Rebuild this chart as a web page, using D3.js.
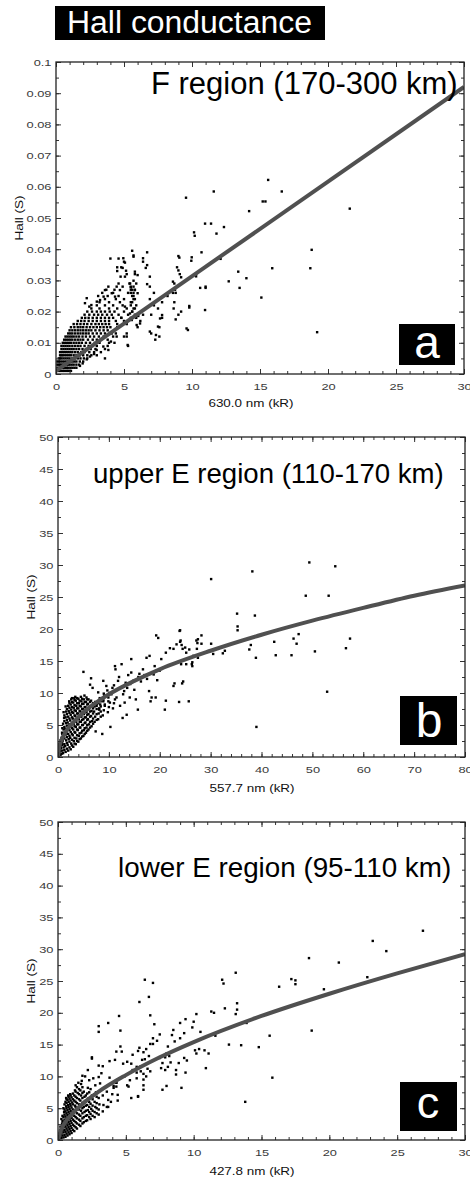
<!DOCTYPE html>
<html>
<head>
<meta charset="utf-8">
<script src="https://cdn.jsdelivr.net/npm/d3@7"></script>
<style>
  body { margin: 0; background: #fff; }
  svg { display: block; font-family: "Liberation Sans", Arial, sans-serif; }
</style>
</head>
<body>
<svg id="chart" width="470" height="1179"></svg>
<script>
// ---- text ----
const titleText = "Hall conductance";
const regionNames = ["F region (170-300 km)", "upper E region (110-170 km)", "lower E region (95-110 km)"];
const xAxisNames = ["630.0 nm (kR)", "557.7 nm (kR)", "427.8 nm (kR)"];
const yAxisName = "Hall (S)";
const panelLetters = ["a", "b", "c"];

// ---- ticks ----
const fXTicks = [0, 5, 10, 15, 20, 25, 30];
const fYTicks = [0, 0.01, 0.02, 0.03, 0.04, 0.05, 0.06, 0.07, 0.08, 0.09, 0.1];
const fYLabels = ["0", "0.01", "0.02", "0.03", "0.04", "0.05", "0.06", "0.07", "0.08", "0.09", "0.1"];
const upperXTicks = [0, 10, 20, 30, 40, 50, 60, 70, 80];
const lowerXTicks = [0, 5, 10, 15, 20, 25, 30];
const eYTicks = [0, 5, 10, 15, 20, 25, 30, 35, 40, 45, 50];

// ---- fitted curves ----
const fitF = [[0, 0.001], [30, 0.092]];
const fitUpperE = [[0, 0], [0.25, 1.6], [0.5, 2.3], [1, 3.2], [2, 4.5], [3, 5.4], [5, 7.0], [7.5, 8.5], [10, 9.8],
  [15, 11.9], [20, 13.7], [30, 16.6], [40, 19.1], [50, 21.3], [60, 23.3], [70, 25.2], [80, 26.8]];
const fitLowerE = [[0, 0], [0.25, 1.75], [0.5, 2.7], [1, 4.0], [2, 6.0], [3, 7.6], [5, 10.2], [7.5, 13.0], [10, 15.4],
  [15, 19.5], [20, 23.0], [25, 26.2], [30, 29.2]];

// ---- scatter points (kR, S) ----
const scatterF = [
  [15.6,0.0622],[16.6,0.0585],[11.6,0.0585],[15.2,0.0553],[15.4,0.0553],[14.2,0.0522],[21.6,0.0530],[10.96,0.0482],
  [11.4,0.0482],[12.35,0.0471],[11.8,0.0450],[10.7,0.0390],[11.45,0.0358],[12.1,0.0369],[18.8,0.0398],[18.7,0.0339],
  [15.9,0.0339],[13.4,0.0328],[14.0,0.0307],[12.7,0.0297],[13.5,0.0276],[10.6,0.0276],[11.0,0.0276],[10.96,0.0205],
  [15.1,0.0245],[19.2,0.0134],[9.56,0.0565],[10.15,0.0454],[10.2,0.0443],[9.95,0.0363],[10.3,0.0313],[9.7,0.0141],
  [9.8,0.0213],[9.07,0.0373],[9.0,0.0332],[9.2,0.031],[9.2,0.020],[9.0,0.019],[8.7,0.029],[8.8,0.026],[8.7,0.023],
  [8.8,0.0175],[8.6,0.026],[7.8,0.018],[7.6,0.015],[7.6,0.012],[7.3,0.011],[7.0,0.013],[7.2,0.026],[6.9,0.028],
  [6.7,0.039],[6.6,0.034],[6.4,0.036],[5.7,0.038],[5.8,0.032],[5.0,0.036],[4.6,0.037],[4.0,0.037],[4.5,0.033],
  [4.9,0.034],[5.2,0.032],[5.2,0.012],[5.3,0.009],[3.6,0.005],[9.0,0.0378],[9.98,0.0374],[8.9,0.0342],[9.1,0.032],
  [10.3,0.032],[8.6,0.0296],[8.75,0.027],[9.8,0.0218],[8.65,0.021],[11.0,0.028],[9.6,0.0146],[7.65,0.0178],
  [7.8,0.0189],[6.9,0.0136],[7.35,0.0125],[7.5,0.0152],[6.7,0.0288],[6.9,0.0312],[6.4,0.0371],[6.7,0.0349],
  [5.6,0.0395],[5.7,0.0376],[4.95,0.0371],[5.07,0.0357],[4.8,0.0342],[4.5,0.0342],[5.15,0.0331],[4.75,0.0312],
  [5.07,0.0312],[5.8,0.0328],[6.0,0.0317],[5.7,0.0299],[5.45,0.029],[5.9,0.029],[5.5,0.0278],[5.8,0.0269],
  [6.0,0.0259],[4.46,0.028],[4.7,0.0269],[4.34,0.0248],[4.1,0.0259],[3.85,0.028],[3.6,0.0269],[3.5,0.0248],
  [3.24,0.0237],[3.0,0.0232],[2.6,0.0221],[2.45,0.0216],[2.13,0.0227],[2.26,0.0243],[5.07,0.0216],[5.44,0.0194],
  [5.57,0.0173],[6.05,0.0186],[6.18,0.0162],[5.93,0.0157],[5.2,0.013],[5.27,0.0093],[4.46,0.012],[4.04,0.0104],
  [3.85,0.0077],[3.48,0.0088],[2.99,0.0077],[2.8,0.0064],[2.5,0.0056],[2.26,0.0047],[1.96,0.0034],[1.76,0.0026],
  [4.1,0.013],[4.5,0.015],[4.8,0.018],[5.2,0.016],[5.6,0.020],[5.9,0.022],[6.2,0.017],[6.4,0.019],[6.6,0.021],
  [6.9,0.024],[7.2,0.022],[7.5,0.021],[7.8,0.023],[8.2,0.025],[7.0,0.019],[5.0,0.012],[6.0,0.015],[4.3,0.010],
  [3.8,0.011],[5.5,0.026],[5.6,0.027],[5.7,0.025],[5.8,0.024],[5.6,0.023],[5.7,0.021],[5.8,0.019],[5.9,0.018],[5.5,0.022],
  [0.1,0.001],[0.3,0.001],[0.5,0.001],[0.7,0.001],[0.9,0.001],[1.1,0.001],
  [0.1,0.002],[0.3,0.002],[0.5,0.002],[0.7,0.002],[0.9,0.002],[1.2,0.002],[1.5,0.002],
  [0.1,0.003],[0.3,0.003],[0.5,0.003],[0.8,0.003],[1.0,0.003],[1.3,0.003],[1.7,0.003],
  [0.1,0.004],[0.3,0.004],[0.6,0.004],[0.9,0.004],[1.2,0.004],[1.5,0.004],[2.0,0.004],
  [0.2,0.005],[0.4,0.005],[0.7,0.005],[1.0,0.005],[1.4,0.005],[1.8,0.005],[2.3,0.005],
  [0.3,0.006],[0.5,0.006],[0.8,0.006],[1.1,0.006],[1.5,0.006],[2.0,0.006],[2.6,0.006],[3.0,0.006],
  [0.3,0.007],[0.6,0.007],[0.9,0.007],[1.2,0.007],[1.6,0.007],[2.1,0.007],[2.8,0.007],[3.3,0.007],
  [0.4,0.008],[0.7,0.008],[1.0,0.008],[1.3,0.008],[1.7,0.008],[2.2,0.008],[2.9,0.008],[3.6,0.008],
  [0.4,0.009],[0.7,0.009],[1.0,0.009],[1.4,0.009],[1.8,0.009],[2.4,0.009],[3.0,0.009],[3.8,0.009],
  [0.5,0.010],[0.8,0.010],[1.1,0.010],[1.5,0.010],[1.9,0.010],[2.5,0.010],[3.2,0.010],[3.9,0.010],
  [0.6,0.011],[0.9,0.011],[1.2,0.011],[1.6,0.011],[2.0,0.011],[2.7,0.011],[3.3,0.011],
  [0.7,0.012],[1.0,0.012],[1.3,0.012],[1.7,0.012],[2.2,0.012],[2.8,0.012],[3.5,0.012],[4.2,0.012],
  [0.9,0.013],[1.2,0.013],[1.6,0.013],[2.0,0.013],[2.4,0.013],[3.0,0.013],[3.6,0.013],[4.4,0.013],
  [1.0,0.014],[1.4,0.014],[1.8,0.014],[2.2,0.014],[2.6,0.014],[3.2,0.014],[3.8,0.014],
  [1.1,0.015],[1.6,0.015],[2.0,0.015],[2.5,0.015],[3.0,0.015],[3.5,0.015],[4.0,0.015],[4.6,0.015],
  [1.3,0.016],[1.8,0.016],[2.3,0.016],[2.9,0.016],[3.4,0.016],[3.9,0.016],[4.5,0.016],
  [1.6,0.017],[2.1,0.017],[2.7,0.017],[3.3,0.017],[3.9,0.017],[4.4,0.017],[5.0,0.017],
  [1.9,0.018],[2.4,0.018],[3.0,0.018],[3.6,0.018],[4.2,0.018],[4.8,0.018],[5.5,0.018],
  [2.1,0.019],[2.8,0.019],[3.4,0.019],[4.1,0.019],[4.6,0.019],[5.3,0.019],
  [2.3,0.020],[3.0,0.020],[3.6,0.020],[4.3,0.020],[5.0,0.020],[5.6,0.020],
  [2.6,0.021],[3.2,0.021],[3.9,0.021],[4.5,0.021],[5.2,0.021],[5.8,0.021],
  [3.0,0.022],[3.6,0.022],[4.2,0.022],[4.9,0.022],
  [3.2,0.023],[3.9,0.023],[4.7,0.023],[5.5,0.023],
  [3.6,0.024],[4.4,0.024],[5.0,0.024],[5.7,0.024],
  [3.1,0.025],[3.8,0.025],[4.6,0.025],[5.6,0.025],
  [3.4,0.026],[4.2,0.026],[5.3,0.026],[5.7,0.026],
  [3.7,0.027],[4.3,0.027],[5.5,0.027],[5.8,0.027],
  [4.9,0.028],[5.5,0.028],[5.7,0.028],[4.6,0.029],[5.4,0.029],
  [0.2,0.001],[0.4,0.001],[0.6,0.001],[0.8,0.001],[1.0,0.001],
  [0.2,0.002],[0.4,0.002],[0.6,0.002],[0.8,0.002],[1.05,0.002],[1.35,0.002],
  [0.2,0.003],[0.4,0.003],[0.65,0.003],[0.9,0.003],[1.15,0.003],[1.5,0.003],
  [0.2,0.004],[0.45,0.004],[0.75,0.004],[1.05,0.004],[1.35,0.004],[1.75,0.004],
  [0.3,0.005],[0.55,0.005],[0.85,0.005],[1.2,0.005],[1.6,0.005],[2.05,0.005],
  [0.4,0.006],[0.65,0.006],[0.95,0.006],[1.3,0.006],[1.75,0.006],[2.3,0.006],
  [0.45,0.007],[0.75,0.007],[1.05,0.007],[1.4,0.007],[1.85,0.007],[2.45,0.007],
  [0.55,0.008],[0.85,0.008],[1.15,0.008],[1.5,0.008],[1.95,0.008],[2.55,0.008],
  [0.55,0.009],[0.85,0.009],[1.2,0.009],[1.6,0.009],[2.1,0.009],[2.7,0.009],
  [0.65,0.010],[0.95,0.010],[1.3,0.010],[1.7,0.010],[2.2,0.010],[2.85,0.010],
  [0.75,0.011],[1.05,0.011],[1.4,0.011],[1.8,0.011],[2.35,0.011],[3.0,0.011],
  [0.85,0.012],[1.15,0.012],[1.5,0.012],[1.95,0.012],[2.5,0.012],[3.15,0.012],
  [1.05,0.013],[1.4,0.013],[1.8,0.013],[2.2,0.013],[2.7,0.013],[3.3,0.013],
  [1.2,0.014],[1.6,0.014],[2.0,0.014],[2.4,0.014],[2.9,0.014],[3.5,0.014],
  [1.35,0.015],[1.8,0.015],[2.25,0.015],[2.75,0.015],[3.25,0.015],[3.75,0.015],
  [1.55,0.016],[2.05,0.016],[2.6,0.016],[3.15,0.016],[3.65,0.016],
  [1.85,0.017],[2.4,0.017],[3.0,0.017],[3.6,0.017],
  [2.15,0.018],[2.7,0.018],[3.3,0.018],[3.9,0.018],
  [2.45,0.019],[3.1,0.019],[3.75,0.019],[2.65,0.020],[3.3,0.020],[3.95,0.020]
];

const scatterUpperE = [
  [52.9,10.2],[39.0,4.7],[57.4,18.5],[56.6,17.0],[50.5,16.5],[45.9,15.9],[46.3,18.5],[46.9,17.7],[47.3,19.2],
  [42.8,15.9],[42.5,18.0],[38.7,22.1],[35.2,22.4],[35.3,20.4],[35.3,19.8],[38.9,15.5],[37.6,16.8],[37.9,17.5],
  [48.7,25.2],[53.2,25.2],[30.1,27.8],[38.2,29.0],[49.4,30.4],[54.5,29.8],
  [24.0,19.8],[24.0,18.0],[24.3,17.5],[24.5,16.9],[25.8,16.8],[27.5,18.4],[27.4,17.8],[30.1,17.7],[30.5,16.1],
  [32.4,16.2],[24.2,14.5],[25.2,14.5],[26.3,14.5],[26.6,15.8],[24.4,11.5],[24.6,11.8],[25.7,8.7],[32.8,16.6],
  [5.0,13.3],[6.5,12.3],[6.3,11.3],[6.8,10.8],[7.4,4.0],[8.7,3.6],[10.3,4.7],[8.1,7.4],[8.9,11.9],[7.9,10.1],
  [9.7,10.4],[9.5,11.1],[10.7,10.8],[11.2,14.2],[11.3,13.7],[12.5,14.5],[11.8,11.9],[11.5,9.3],[12.2,8.0],[12.7,6.1],
  [13.5,6.6],[13.1,8.5],[14.4,15.3],[14.4,13.2],[14.8,11.9],[14.1,9.3],[15.3,9.0],[15.7,7.4],[16.7,13.7],[17.4,15.5],
  [18.0,15.8],[17.9,10.3],[18.4,9.3],[18.2,8.7],[19.2,9.3],[19.3,19.0],[19.7,18.6],[19.0,14.2],[21.0,7.4],[21.2,8.8],
  [20.3,15.3],[21.2,16.3],[22.0,17.0],[22.7,16.9],[23.3,17.6],[23.9,19.7],[24.1,18.2],[22.9,11.5],[22.7,11.1],
  [23.8,8.6],[25.0,17.1],[25.2,16.3],[26.4,14.8],[26.4,14.2],[27.2,18.2],[27.3,16.9],[28.2,19.0],[28.2,17.7],[27.5,15.5],
  [13.0,10.3],[13.6,10.8],[14.2,11.4],[13.3,11.6],[8.3,8.2],[8.9,8.7],[9.2,8.2],[9.9,8.7],[6.9,8.2],[7.6,8.0],
  [15.8,12.5],[16.3,11.8],[17.0,12.8],[16.0,13.0],[12.0,12.5],[13.8,12.8],[15.0,10.5],[17.5,12.2],[18.8,12.9],
  [20.0,13.5],[19.5,12.0],[10.5,9.8],[11.0,11.2],[12.8,9.8],[9.0,9.9],
  [0.3,0.5],[0.4,1.2],[0.3,2.0],[0.5,0.3],[0.15,0.8],[0.2,1.6],
  [0.7,0.5],[0.6,1.4],[0.8,2.2],[0.7,3.0],[0.8,3.8],
  [1.0,0.6],[1.1,1.5],[0.9,2.5],[1.0,3.4],[1.1,4.3],[1.0,5.2],[1.2,6.1],[1.1,7.0],
  [1.5,0.8],[1.4,1.7],[1.6,2.6],[1.5,3.5],[1.4,4.4],[1.6,5.3],[1.5,6.2],[1.6,7.1],[1.5,7.9],
  [2.0,1.0],[1.9,1.9],[2.1,2.8],[2.0,3.6],[2.1,4.5],[1.9,5.4],[2.0,6.3],[2.1,7.2],[2.0,8.0],[2.2,8.7],
  [2.5,1.2],[2.6,2.1],[2.4,3.0],[2.5,3.9],[2.6,4.8],[2.4,5.7],[2.5,6.6],[2.6,7.4],[2.5,8.2],[2.6,9.0],
  [3.0,1.6],[3.1,2.5],[2.9,3.4],[3.0,4.3],[3.1,5.2],[2.9,6.0],[3.0,6.9],[3.1,7.7],[3.0,8.5],[3.2,9.2],
  [3.5,2.0],[3.6,2.9],[3.4,3.8],[3.5,4.7],[3.6,5.5],[3.4,6.4],[3.5,7.2],[3.6,8.0],[3.5,8.8],[3.4,9.4],
  [4.0,2.4],[4.1,3.3],[3.9,4.2],[4.0,5.1],[4.1,5.9],[3.9,6.8],[4.0,7.6],[4.1,8.4],[4.0,9.1],
  [4.5,2.9],[4.6,3.8],[4.4,4.6],[4.5,5.5],[4.6,6.3],[4.4,7.1],[4.5,7.9],[4.6,8.7],[4.5,9.4],
  [5.0,3.3],[5.1,4.2],[4.9,5.0],[5.0,5.9],[5.1,6.7],[4.9,7.5],[5.0,8.3],[5.1,9.0],[5.2,9.6],
  [5.5,3.8],[5.6,4.6],[5.4,5.4],[5.5,6.2],[5.6,7.0],[5.4,7.8],[5.5,8.6],[5.6,9.3],
  [6.0,4.3],[6.1,5.1],[5.9,5.9],[6.0,6.7],[6.1,7.5],[5.9,8.3],[6.0,9.0],
  [6.6,4.8],[6.7,5.6],[6.5,6.4],[6.6,7.2],[6.7,8.0],[6.5,8.8],
  [7.2,5.5],[7.3,6.3],[7.1,7.1],[7.2,7.9],[7.3,8.6],
  [7.9,5.9],[8.0,6.8],[8.1,7.6],[7.9,8.4],[8.2,9.2],
  [8.8,6.5],[9.0,7.3],[9.2,8.0],[8.9,8.9],[9.1,9.6],
  [9.8,7.0],[10.0,7.8],[10.2,8.5],[9.9,9.3],[10.1,10.0],
  [10.8,7.6],[11.0,8.4],[11.2,9.0],
  [0.5,0.9],[0.5,1.7],[0.5,2.6],
  [0.85,1.0],[0.85,1.9],[0.85,2.8],[0.85,3.6],[0.85,4.5],
  [1.25,1.1],[1.25,2.0],[1.25,2.9],[1.25,3.8],[1.25,4.7],[1.25,5.6],[1.25,6.5],
  [1.75,1.3],[1.75,2.2],[1.75,3.1],[1.75,4.0],[1.75,4.9],[1.75,5.8],[1.75,6.7],[1.75,7.5],
  [2.25,1.5],[2.25,2.4],[2.25,3.3],[2.25,4.2],[2.25,5.1],[2.25,6.0],[2.25,6.9],[2.25,7.7],[2.25,8.4],
  [2.75,1.8],[2.75,2.7],[2.75,3.6],[2.75,4.5],[2.75,5.3],[2.75,6.2],[2.75,7.0],[2.75,7.8],[2.75,8.6],[2.75,9.2],
  [3.25,2.1],[3.25,3.0],[3.25,3.9],[3.25,4.8],[3.25,5.7],[3.25,6.5],[3.25,7.3],[3.25,8.1],[3.25,8.9],
  [3.75,2.5],[3.75,3.4],[3.75,4.3],[3.75,5.1],[3.75,6.0],[3.75,6.8],[3.75,7.6],[3.75,8.4],[3.75,9.2],
  [4.25,2.8],[4.25,3.7],[4.25,4.6],[4.25,5.5],[4.25,6.3],[4.25,7.2],[4.25,8.0],[4.25,8.8],
  [4.75,3.2],[4.75,4.1],[4.75,5.0],[4.75,5.8],[4.75,6.7],[4.75,7.5],[4.75,8.3],[4.75,9.1],
  [5.25,3.6],[5.25,4.5],[5.25,5.3],[5.25,6.2],[5.25,7.0],[5.25,7.8],[5.25,8.6],
  [5.75,4.1],[5.75,5.0],[5.75,5.8],[5.75,6.6],[5.75,7.4],[5.75,8.2],[5.75,9.0],
  [6.3,4.6],[6.3,5.5],[6.3,6.3],[6.3,7.1],[6.3,7.9],[6.3,8.6],
  [6.9,5.2],[6.9,6.0],[6.9,6.8],[6.9,7.6],[6.9,8.4],
  [7.6,5.8],[7.6,6.7],[7.6,7.5],[7.6,8.3],
  [8.4,6.3],[8.4,7.1],[8.4,7.9],[8.4,8.7]
];

const scatterLowerE = [
  [26.9,32.9],[23.2,31.3],[24.2,29.7],[18.5,28.6],[20.7,27.9],[17.2,25.3],[17.5,25.1],[17.5,24.5],[16.3,24.1],
  [13.1,26.3],[12.1,25.2],[12.2,24.6],[13.2,21.5],[13.2,20.5],[13.1,19.8],[12.3,20.7],[11.3,20.2],[11.5,20.0],
  [13.9,18.4],[11.6,16.4],[18.7,17.2],[15.6,16.4],[14.8,14.6],[12.6,15.0],[13.5,14.9],[19.6,23.7],[22.8,25.6],
  [13.8,6.0],[15.8,9.8],[6.4,25.2],[7.0,24.7],
  [10.9,11.3],[9.1,8.2],[9.4,10.6],[9.5,12.5],[9.3,12.9],[8.9,12.1],[9.0,16.0],[9.3,16.8],[8.6,15.5],[8.4,16.5],
  [8.5,17.3],[9.0,18.4],[9.4,19.0],[7.5,16.6],[6.8,15.1],[7.0,15.1],[7.3,15.6],[7.0,16.0],[7.1,18.2],[6.8,19.6],
  [6.7,22.5],[6.0,21.7],[4.5,19.5],[4.6,17.2],[3.0,17.9],[3.0,17.0],[3.7,18.4],[2.5,13.0],[2.2,11.0],[3.0,11.7],
  [3.3,11.6],[3.8,12.4],[4.2,12.6],[4.3,13.9],[4.6,14.7],[4.7,13.9],
  [10.2,19.8],[9.9,17.7],[10.0,18.6],[10.5,17.0],[11.1,13.6],[10.8,14.1],[10.2,13.6],[10.4,14.3],[10.1,14.1],
  [4.8,12.0],[5.1,12.3],[5.4,12.0],[5.8,11.5],[6.1,11.6],[6.2,12.6],[6.4,12.7],[6.7,13.2],[5.5,13.4],[5.9,14.0],
  [6.0,14.5],[6.5,14.3],[6.3,13.8],[5.5,11.0],[5.8,10.6],[6.1,10.8],[6.3,10.4],[6.6,11.2],[6.8,10.8],
  [6.5,10.0],[6.3,9.5],[5.8,9.7],[5.4,6.6],[5.9,6.9],[6.3,8.6],[4.4,6.2],[3.7,5.2],[5.2,8.4],[4.9,10.0],[4.1,8.2],[4.3,9.0],
  [7.9,13.0],[8.0,13.6],[8.1,14.7],[8.2,13.2],[7.5,12.9],[7.7,12.1],[7.6,11.3],[8.1,11.5],[8.3,12.2],[7.9,11.0],
  [7.7,7.9],[8.0,8.5],[8.7,11.0],[8.7,10.3],[4.4,7.1],[5.1,8.6],[5.3,9.4],[5.9,6.8],[6.3,7.9],[4.3,8.4],[3.0,9.9],[2.5,12.8],
  [2.0,10.0],[2.3,9.4],[2.6,9.7],[3.2,10.5],[1.8,10.1],
  [0.1,0.3],[0.1,0.9],[0.15,1.6],
  [0.25,0.3],[0.25,1.0],[0.25,1.8],[0.3,2.6],[0.25,3.3],
  [0.4,0.4],[0.4,1.2],[0.4,2.0],[0.4,2.8],[0.4,3.6],[0.45,4.4],[0.4,5.0],
  [0.55,0.5],[0.55,1.3],[0.55,2.1],[0.55,2.9],[0.55,3.7],[0.55,4.5],[0.6,5.3],[0.55,6.0],[0.6,6.6],
  [0.7,0.7],[0.7,1.5],[0.7,2.3],[0.7,3.1],[0.7,3.9],[0.7,4.7],[0.75,5.5],[0.7,6.3],[0.75,7.0],
  [0.85,0.9],[0.85,1.7],[0.85,2.5],[0.85,3.3],[0.85,4.1],[0.85,4.9],[0.9,5.7],[0.85,6.5],[0.9,7.2],
  [1.0,1.1],[1.0,1.9],[1.0,2.7],[1.0,3.5],[1.0,4.3],[1.0,5.1],[1.05,5.9],[1.0,6.7],
  [1.2,1.4],[1.2,2.2],[1.2,3.0],[1.2,3.8],[1.2,4.6],[1.25,5.4],[1.2,6.2],[1.2,7.0],[1.25,7.8],
  [1.4,1.8],[1.4,2.6],[1.4,3.4],[1.4,4.2],[1.45,5.0],[1.4,5.8],[1.4,6.6],[1.45,7.4],[1.4,8.3],[1.5,9.0],
  [1.65,2.2],[1.65,3.0],[1.65,3.8],[1.7,4.6],[1.65,5.4],[1.65,6.2],[1.7,7.0],[1.65,7.8],[1.7,8.8],[1.75,9.3],
  [1.9,2.8],[1.9,3.6],[1.95,4.4],[1.9,5.2],[1.9,6.0],[1.95,6.8],[1.9,7.6],
  [2.15,3.1],[2.15,3.9],[2.2,4.7],[2.15,5.5],[2.2,6.5],[2.15,7.3],[2.2,8.2],
  [2.4,3.3],[2.4,4.1],[2.45,4.9],[2.4,5.7],[2.5,7.0],[2.4,8.0],
  [2.7,3.6],[2.7,4.4],[2.75,5.2],[2.7,6.0],[2.8,7.5],[2.75,8.6],
  [3.0,4.0],[3.0,4.8],[3.05,5.6],[3.0,6.6],[3.1,8.9],
  [3.3,4.5],[3.35,5.5],[3.3,7.0],[3.6,5.2],[3.7,6.3],[3.6,7.6],
  [3.9,6.0],[4.0,7.2],[4.1,8.5],[3.8,9.8],[4.3,9.0],
  [0.18,0.6],[0.18,1.3],[0.18,2.1],
  [0.33,0.7],[0.33,1.5],[0.33,2.3],[0.33,3.0],[0.33,3.8],
  [0.48,0.8],[0.48,1.6],[0.48,2.4],[0.48,3.2],[0.48,4.0],[0.48,4.8],[0.48,5.6],
  [0.63,1.0],[0.63,1.8],[0.63,2.6],[0.63,3.4],[0.63,4.2],[0.63,5.0],[0.63,5.8],[0.63,6.4],
  [0.78,1.2],[0.78,2.0],[0.78,2.8],[0.78,3.6],[0.78,4.4],[0.78,5.2],[0.78,6.0],[0.78,6.8],
  [0.93,1.4],[0.93,2.2],[0.93,3.0],[0.93,3.8],[0.93,4.6],[0.93,5.4],[0.93,6.2],[0.93,7.0],
  [1.1,1.6],[1.1,2.4],[1.1,3.2],[1.1,4.0],[1.1,4.8],[1.1,5.6],[1.1,6.4],[1.1,7.3],
  [1.3,2.0],[1.3,2.8],[1.3,3.6],[1.3,4.4],[1.3,5.2],[1.3,6.0],[1.3,6.8],[1.3,7.6],[1.3,8.6],
  [1.55,2.4],[1.55,3.2],[1.55,4.0],[1.55,4.8],[1.55,5.6],[1.55,6.4],[1.55,7.2],[1.55,8.0],
  [1.8,2.6],[1.8,3.4],[1.8,4.2],[1.8,5.0],[1.8,5.8],[1.8,6.6],[1.8,7.4],[1.8,8.3],
  [2.05,3.0],[2.05,3.8],[2.05,4.6],[2.05,5.4],[2.05,6.2],[2.05,7.0],
  [2.3,3.6],[2.3,4.4],[2.3,5.2],[2.3,6.0],[2.3,7.5],
  [2.55,3.8],[2.55,4.6],[2.55,5.4],[2.55,6.4],
  [2.85,4.2],[2.85,5.0],[2.85,5.8],[2.85,6.8]
];

// ---- layout ----
const panels = [
  { pts: scatterF, fit: fitF, left: 56, right: 464, top: 62, bottom: 374,
    xDomain: [0, 30], yDomain: [0, 0.1], xTicks: fXTicks, yTicks: fYTicks, yLabels: fYLabels,
    xMinor: 1, yMinor: 0.005, region: regionNames[0], regionX: 151, regionY: 94, regionSize: 31,
    xName: xAxisNames[0], xNameX: 251, xNameY: 407, yNameX: 23,
    letter: panelLetters[0], box: [399, 324, 56, 41], letterX: 427, letterY: 358, letterSize: 46 },
  { pts: scatterUpperE, fit: fitUpperE, left: 58, right: 465, top: 437, bottom: 757,
    xDomain: [0, 80], yDomain: [0, 50], xTicks: upperXTicks, yTicks: eYTicks, yLabels: eYTicks.map(String),
    xMinor: 2, yMinor: 2.5, region: regionNames[1], regionX: 93, regionY: 483, regionSize: 27.6,
    xName: xAxisNames[1], xNameX: 252, xNameY: 792, yNameX: 35,
    letter: panelLetters[1], box: [400, 696, 57, 49], letterX: 429, letterY: 737, letterSize: 48 },
  { pts: scatterLowerE, fit: fitLowerE, left: 58, right: 465, top: 822, bottom: 1140,
    xDomain: [0, 30], yDomain: [0, 50], xTicks: lowerXTicks, yTicks: eYTicks, yLabels: eYTicks.map(String),
    xMinor: 1, yMinor: 2.5, region: regionNames[2], regionX: 118, regionY: 877, regionSize: 27.8,
    xName: xAxisNames[2], xNameX: 252, xNameY: 1175, yNameX: 35,
    letter: panelLetters[2], box: [400, 1082, 57, 49], letterX: 428, letterY: 1118, letterSize: 45 }
];

const svg = d3.select("#chart");

// the original lettering is wide, so stretch glyphs a bit
function stretch(sel, k) {
  sel.each(function() {
    const w = this.getComputedTextLength();
    d3.select(this).attr("textLength", w * k).attr("lengthAdjust", "spacingAndGlyphs");
  });
}

// title
svg.append("rect").attr("x", 55).attr("y", 6).attr("width", 270).attr("height", 34).attr("fill", "#000");
let title = svg.append("text").attr("x", 67).attr("y", 33).attr("fill", "#fff").style("font-size", "31px").text(titleText);
stretch(title, 1.03);

panels.forEach(function(p, idx) {
  let x = d3.scaleLinear().domain(p.xDomain).range([p.left, p.right]);
  let y = d3.scaleLinear().domain(p.yDomain).range([p.bottom, p.top]);

  let g = svg.append("g").attr("id", "panel" + idx);

  g.append("clipPath").attr("id", "clip" + idx)
    .append("rect")
    .attr("x", p.left).attr("y", p.top)
    .attr("width", p.right - p.left).attr("height", p.bottom - p.top);

  let plot = g.append("g").attr("clip-path", "url(#clip" + idx + ")");

  plot.selectAll("rect.dot")
    .data(p.pts)
    .enter().append("rect")
    .attr("class", "dot")
    .attr("x", d => x(d[0]) - 1.2)
    .attr("y", d => y(d[1]) - 1.2)
    .attr("width", 2.4)
    .attr("height", 2.4)
    .attr("fill", "#000");

  let line = d3.line()
    .x(d => x(d[0]))
    .y(d => y(d[1]))
    .curve(d3.curveMonotoneX);

  plot.append("path")
    .datum(p.fit)
    .attr("d", line)
    .attr("fill", "none")
    .attr("stroke", "#505050")
    .attr("stroke-width", 4);

  // ticks on all four sides, pointing inwards
  let xMinorTicks = d3.range(p.xDomain[0], p.xDomain[1] + 1e-9, p.xMinor);
  let yMinorTicks = d3.range(p.yDomain[0], p.yDomain[1] + 1e-9, p.yMinor);

  let axes = g.append("g").attr("class", "axes");

  axes.append("g").attr("transform", "translate(0," + p.bottom + ")")
    .call(d3.axisBottom(x).tickValues(xMinorTicks).tickSize(-3).tickFormat(""));
  axes.append("g").attr("transform", "translate(0," + p.top + ")")
    .call(d3.axisTop(x).tickValues(xMinorTicks).tickSize(-3).tickFormat(""));
  axes.append("g").attr("transform", "translate(" + p.left + ",0)")
    .call(d3.axisLeft(y).tickValues(yMinorTicks).tickSize(-3).tickFormat(""));
  axes.append("g").attr("transform", "translate(" + p.right + ",0)")
    .call(d3.axisRight(y).tickValues(yMinorTicks).tickSize(-3).tickFormat(""));

  axes.append("g").attr("class", "ticklabels").attr("transform", "translate(0," + p.bottom + ")")
    .call(d3.axisBottom(x).tickValues(p.xTicks).tickSize(-5).tickPadding(9).tickFormat(d => String(d)));
  axes.append("g").attr("transform", "translate(0," + p.top + ")")
    .call(d3.axisTop(x).tickValues(p.xTicks).tickSize(-5).tickFormat(""));
  axes.append("g").attr("class", "ticklabels").attr("transform", "translate(" + p.left + ",0)")
    .call(d3.axisLeft(y).tickValues(p.yTicks).tickSize(-5).tickPadding(4.5).tickFormat((d, i) => p.yLabels[i]));
  axes.append("g").attr("transform", "translate(" + p.right + ",0)")
    .call(d3.axisRight(y).tickValues(p.yTicks).tickSize(-5).tickFormat(""));

  axes.selectAll(".domain").remove();
  axes.selectAll(".tick line").attr("stroke", "#333").attr("stroke-width", 1);
  axes.selectAll(".ticklabels text")
    .attr("fill", "#3a3a3a")
    .style("font-family", "\"Liberation Sans\", Arial, sans-serif")
    .style("font-size", "9.5px");
  stretch(axes.selectAll(".ticklabels text"), 1.35);

  // frame
  g.append("rect")
    .attr("x", p.left).attr("y", p.top)
    .attr("width", p.right - p.left).attr("height", p.bottom - p.top)
    .attr("fill", "none")
    .attr("stroke", "#222")
    .attr("stroke-width", 1.3);

  // axis names
  let xn = g.append("text")
    .attr("x", p.xNameX).attr("y", p.xNameY)
    .attr("text-anchor", "middle")
    .attr("fill", "#111")
    .style("font-size", "10.5px")
    .text(p.xName);
  stretch(xn, 1.28);

  let yn = g.append("text")
    .attr("transform", "translate(" + p.yNameX + "," + ((p.top + p.bottom) / 2) + ") rotate(-90)")
    .attr("text-anchor", "middle")
    .attr("fill", "#111")
    .style("font-size", "11px")
    .text(yAxisName);
  stretch(yn, 1.23);

  // region label
  g.append("text")
    .attr("x", p.regionX).attr("y", p.regionY)
    .attr("fill", "#000")
    .style("font-size", p.regionSize + "px")
    .text(p.region);

  // panel letter
  g.append("rect")
    .attr("x", p.box[0]).attr("y", p.box[1])
    .attr("width", p.box[2]).attr("height", p.box[3])
    .attr("fill", "#000");
  g.append("text")
    .attr("x", p.letterX).attr("y", p.letterY)
    .attr("text-anchor", "middle")
    .attr("fill", "#fff")
    .style("font-size", p.letterSize + "px")
    .text(p.letter);
});
</script>
</body>
</html>
